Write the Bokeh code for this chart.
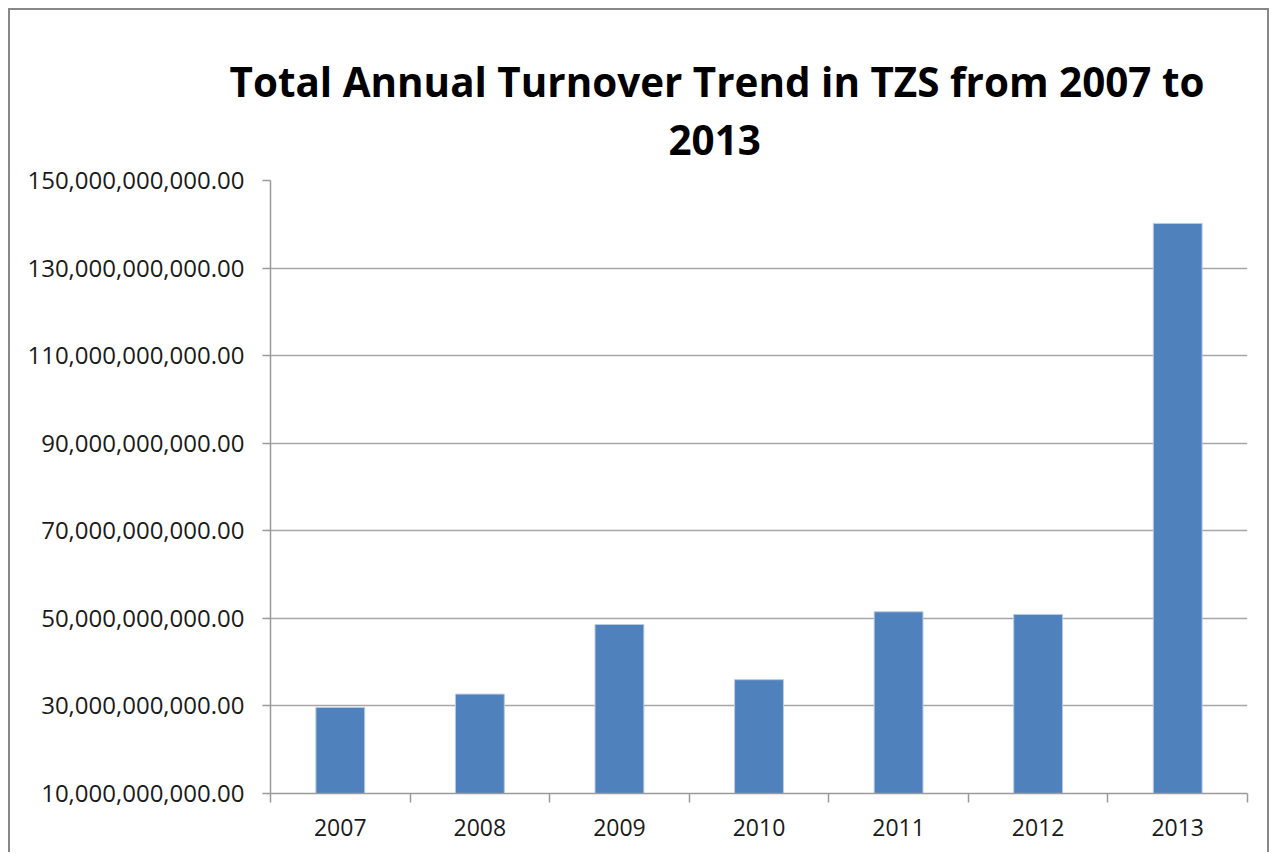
from bokeh.plotting import figure
from bokeh.models import FixedTicker, NumeralTickFormatter, Range1d, Title, ColumnDataSource
from bokeh.embed import file_html
from bokeh.resources import INLINE

years = ["2007", "2008", "2009", "2010", "2011", "2012", "2013"]
turnover = [29.65e9, 32.7e9, 48.6e9, 36.0e9, 51.5e9, 50.9e9, 140.2e9]
y_ticks = [10e9, 30e9, 50e9, 70e9, 90e9, 110e9, 130e9, 150e9]
title_line1 = "Total Annual Turnover Trend in TZS from 2007 to"
title_line2 = "2013"

pos = [i + 1 for i in range(len(years))]
src = ColumnDataSource(dict(x=pos, top=turnover, year=years))

p = figure(width=1257, height=842, output_backend="svg", toolbar_location=None,
           x_range=Range1d(0.5, len(years) + 0.5), y_range=Range1d(y_ticks[0], y_ticks[-1]),
           min_border_left=260, min_border_right=24, min_border_top=170, min_border_bottom=61)
p.styles = {"margin-left": "8px", "margin-top": "8px",
            "border-left": "2px solid #888888", "border-top": "2px solid #888888",
            "border-right": "2px solid #888888", "box-sizing": "content-box"}
p.outline_line_color = None
p.background_fill_color = "white"
p.border_fill_color = "white"

FONT = "Open Sans"
TXT = "#1a1a1a"

t2 = Title(text=title_line2, text_font=FONT, text_font_size="40.4px", text_font_style="bold",
           text_color="black", align="left", offset=398, standoff=52)
t1 = Title(text=title_line1, text_font=FONT, text_font_size="40.4px", text_font_style="bold",
           text_color="black", align="left", offset=-41, standoff=-24)
p.add_layout(t2, "above")
p.add_layout(t1, "above")

p.vbar(x="x", top="top", bottom=y_ticks[0], width=0.35, source=src,
       fill_color="#4F81BD", line_color="#B8CCE4", line_width=1)

# y axis
yax = p.yaxis[0]
yax.ticker = FixedTicker(ticks=y_ticks)
yax.formatter = NumeralTickFormatter(format="0,0.00")
yax.major_label_text_font = FONT
yax.major_label_text_font_size = "24px"
yax.major_label_text_color = TXT
yax.major_label_standoff = 18
yax.major_tick_out = 8
yax.major_tick_in = 0
yax.minor_tick_out = 0
yax.minor_tick_in = 0
yax.axis_line_color = "#9a9a9a"
yax.axis_line_width = 1.5
yax.major_tick_line_color = "#9a9a9a"
yax.major_tick_line_width = 1.5

# x axis
xax = p.xaxis[0]
xax.ticker = FixedTicker(ticks=pos, minor_ticks=[i + 0.5 for i in range(len(years) + 1)])
xax.major_label_overrides = {i + 1: y for i, y in enumerate(years)}
xax.major_label_text_font = FONT
xax.major_label_text_font_size = "23px"
xax.major_label_text_color = TXT
xax.major_label_standoff = 16
xax.major_tick_out = 0
xax.major_tick_in = 0
xax.minor_tick_out = 9
xax.minor_tick_in = 0
xax.minor_tick_line_color = "#9a9a9a"
xax.minor_tick_line_width = 1.5
xax.axis_line_color = "#9a9a9a"
xax.axis_line_width = 1.5

p.xgrid.grid_line_color = None
p.ygrid.grid_line_color = "#a6a6a6"
p.ygrid.grid_line_width = 1.5

open("out.html", "w").write(file_html(p, INLINE))
